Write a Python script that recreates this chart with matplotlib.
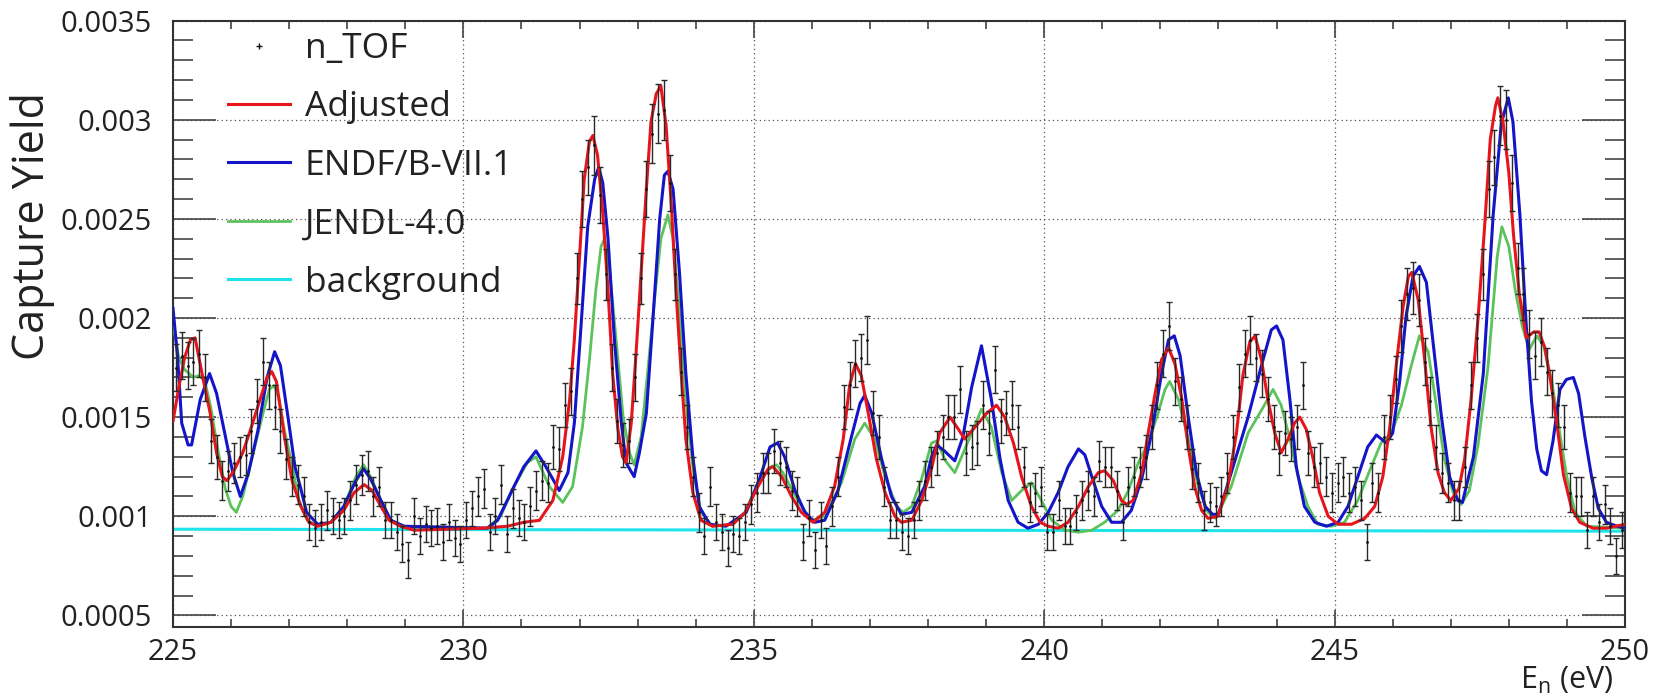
import numpy as np
import matplotlib
matplotlib.use("Agg")
import matplotlib.pyplot as plt
from matplotlib.lines import Line2D
from matplotlib.ticker import MultipleLocator, FixedLocator, FixedFormatter

plt.rcParams['font.family'] = ['Open Sans', 'DejaVu Sans']

SCALE = 1e-5  # all yields below are in units of 1e-5

# n_TOF capture yield, 0.1 eV bins from 225.05 eV (one row per eV)
ntof_e = np.round(np.arange(225.05, 250.0, 0.1), 2)
ntof_y = [
    175, 181, 176, 178, 182, 170, 138, 130, 118, 123,
    127, 130, 131, 143, 158, 178, 166, 155, 143, 129,
    120, 116, 110, 97, 94, 97, 103, 100, 98, 100,
    108, 116, 121, 123, 110, 115, 98, 98, 92, 86,
    78, 100, 90, 96, 94, 95, 87, 97, 89, 86,
    98, 104, 110, 114, 92, 100, 116, 91, 104, 99,
    97, 105, 113, 118, 117, 135, 134, 156, 163, 220,
    260, 276, 287, 262, 222, 175, 148, 136, 138, 170,
    220, 265, 293, 303, 305, 268, 222, 173, 145, 120,
    102, 90, 115, 97, 92, 84, 91, 90, 97, 106,
    112, 122, 122, 133, 127, 125, 113, 110, 87, 99,
    83, 98, 85, 105, 120, 155, 166, 177, 180, 189,
    152, 140, 115, 98, 98, 92, 90, 98, 108, 118,
    125, 132, 140, 150, 150, 164, 132, 135, 137, 156,
    142, 174, 148, 152, 156, 145, 125, 107, 112, 115,
    92, 92, 108, 95, 95, 102, 108, 113, 110, 128,
    125, 125, 113, 97, 115, 120, 125, 130, 145, 166,
    182, 196, 168, 159, 145, 124, 117, 103, 107, 105,
    110, 122, 140, 165, 182, 189, 180, 172, 159, 145,
    132, 142, 139, 145, 166, 132, 125, 127, 120, 112,
    117, 120, 112, 115, 108, 87, 117, 112, 140, 150,
    169, 196, 212, 215, 209, 178, 158, 135, 122, 117,
    108, 108, 125, 166, 190, 222, 265, 281, 302, 300,
    268, 225, 212, 192, 181, 188, 173, 162, 156, 145,
    112, 110, 110, 93, 110, 97, 106, 95, 80, 93,
]
ntof_err = [
    12, 12, 12, 12, 12, 12, 11, 11, 10, 10,
    10, 10, 10, 11, 11, 12, 12, 11, 11, 10,
    10, 10, 10, 9, 9, 9, 10, 9, 9, 9,
    10, 10, 10, 10, 10, 10, 9, 9, 9, 9,
    9, 9, 9, 9, 9, 9, 9, 9, 9, 9,
    9, 9, 10, 10, 9, 9, 10, 9, 10, 9,
    9, 10, 10, 10, 10, 11, 11, 11, 12, 13,
    14, 14, 15, 14, 13, 12, 11, 11, 11, 12,
    13, 14, 15, 15, 15, 14, 13, 12, 11, 10,
    10, 9, 10, 9, 9, 9, 9, 9, 9, 10,
    10, 10, 10, 11, 11, 10, 10, 10, 9, 9,
    9, 9, 9, 10, 10, 11, 12, 12, 12, 12,
    11, 11, 10, 9, 9, 9, 9, 9, 10, 10,
    10, 11, 11, 11, 11, 12, 11, 11, 11, 12,
    11, 12, 11, 11, 12, 11, 10, 10, 10, 10,
    9, 9, 10, 9, 9, 9, 10, 10, 10, 10,
    10, 10, 10, 9, 10, 10, 10, 11, 11, 12,
    12, 12, 12, 11, 11, 10, 10, 10, 10, 10,
    10, 10, 11, 12, 12, 12, 12, 12, 11, 11,
    11, 11, 11, 11, 12, 11, 10, 10, 10, 10,
    10, 10, 10, 10, 10, 9, 10, 10, 11, 11,
    12, 13, 13, 13, 13, 12, 12, 11, 10, 10,
    10, 10, 10, 12, 12, 13, 14, 14, 15, 15,
    14, 13, 13, 12, 12, 12, 12, 12, 11, 11,
    10, 10, 10, 9, 10, 9, 10, 9, 9, 9,
]

# (E [eV], yield [1e-5])
adjusted_pts = [
    (225.00, 148), (225.10, 165), (225.20, 180), (225.30, 189), (225.38, 190),
    (225.50, 172), (225.64, 152), (225.75, 132), (225.85, 120), (225.93, 118),
    (226.05, 123), (226.20, 132), (226.35, 145), (226.50, 159), (226.62, 170),
    (226.70, 173), (226.78, 168), (226.92, 140), (227.05, 118), (227.20, 105),
    (227.34, 97), (227.49, 95), (227.72, 97), (227.94, 103), (228.12, 112),
    (228.29, 116), (228.43, 113), (228.58, 105), (228.72, 98), (228.92, 95),
    (229.15, 93), (230.30, 94), (230.76, 95), (231.04, 97), (231.31, 98),
    (231.54, 108), (231.71, 130), (231.83, 159), (231.91, 189), (232.00, 231),
    (232.08, 270), (232.17, 289), (232.23, 292), (232.31, 282), (232.40, 253),
    (232.49, 214), (232.57, 172), (232.66, 144), (232.74, 130), (232.80, 127),
    (232.89, 147), (232.97, 181), (233.06, 223), (233.15, 265), (233.23, 299),
    (233.32, 313), (233.40, 317), (233.49, 297), (233.58, 257), (233.66, 214),
    (233.75, 172), (233.83, 139), (233.95, 112), (234.09, 98), (234.29, 95),
    (234.64, 96), (234.85, 102), (235.07, 115), (235.25, 124), (235.33, 125),
    (235.48, 120), (235.65, 110), (235.82, 102), (236.02, 97), (236.22, 102),
    (236.39, 115), (236.54, 139), (236.65, 166), (236.75, 177), (236.85, 171),
    (236.97, 152), (237.11, 129), (237.26, 112), (237.43, 100), (237.54, 97),
    (237.72, 98), (237.89, 108), (238.06, 124), (238.20, 142), (238.38, 150),
    (238.52, 144), (238.63, 139), (238.81, 145), (239.01, 152), (239.18, 156),
    (239.32, 150), (239.47, 137), (239.61, 120), (239.78, 105), (239.93, 97),
    (240.07, 95), (240.24, 94), (240.41, 97), (240.59, 105), (240.76, 115),
    (240.93, 122), (241.04, 123), (241.19, 118), (241.33, 108), (241.42, 106),
    (241.53, 108), (241.68, 122), (241.79, 142), (241.91, 162), (242.02, 179),
    (242.14, 185), (242.25, 177), (242.37, 159), (242.48, 135), (242.59, 115),
    (242.71, 103), (242.82, 99), (242.99, 100), (243.16, 115), (243.31, 142),
    (243.42, 171), (243.54, 188), (243.63, 191), (243.74, 179), (243.85, 159),
    (243.97, 142), (244.08, 132), (244.20, 139), (244.31, 147), (244.40, 150),
    (244.51, 144), (244.63, 129), (244.74, 112), (244.89, 100), (245.06, 96),
    (245.29, 96), (245.52, 99), (245.69, 105), (245.83, 120), (245.95, 145),
    (246.06, 176), (246.18, 206), (246.27, 221), (246.33, 223), (246.44, 209),
    (246.55, 179), (246.66, 145), (246.78, 122), (246.89, 112), (247.00, 108),
    (247.14, 114), (247.24, 129), (247.35, 159), (247.47, 200), (247.58, 245),
    (247.68, 290), (247.77, 307), (247.81, 311), (247.90, 299), (248.00, 273),
    (248.08, 242), (248.18, 212), (248.30, 190), (248.43, 193), (248.52, 193),
    (248.62, 185), (248.72, 168), (248.82, 148), (248.94, 121), (249.08, 104),
    (249.22, 97), (249.45, 94), (249.68, 94), (250.00, 96),
]
endf_pts = [
    (225.00, 205), (225.08, 180), (225.15, 147), (225.26, 136), (225.32, 136),
    (225.47, 159), (225.63, 172), (225.75, 162), (225.89, 142), (226.03, 122),
    (226.16, 110), (226.30, 122), (226.46, 143), (226.62, 170), (226.75, 183),
    (226.85, 176), (226.98, 150), (227.10, 125), (227.20, 114), (227.30, 102),
    (227.49, 96), (227.72, 97), (227.94, 105), (228.15, 118), (228.28, 124),
    (228.40, 119), (228.58, 108), (228.75, 98), (228.98, 95), (230.41, 94),
    (230.59, 98), (230.82, 112), (231.04, 125), (231.25, 133), (231.42, 125),
    (231.65, 113), (231.80, 122), (231.91, 147), (232.03, 198), (232.14, 246),
    (232.26, 270), (232.33, 276), (232.40, 268), (232.49, 240), (232.60, 189),
    (232.72, 147), (232.80, 127), (232.94, 120), (233.03, 132), (233.15, 152),
    (233.26, 198), (233.38, 250), (233.46, 272), (233.52, 274), (233.61, 265),
    (233.72, 223), (233.83, 172), (233.95, 130), (234.06, 105), (234.24, 96),
    (234.52, 95), (234.87, 102), (235.10, 119), (235.28, 135), (235.41, 137),
    (235.53, 130), (235.71, 113), (235.88, 102), (236.05, 97), (236.22, 98),
    (236.45, 113), (236.68, 140), (236.83, 157), (236.91, 161), (237.03, 152),
    (237.20, 129), (237.37, 110), (237.54, 101), (237.72, 102), (237.94, 115),
    (238.06, 130), (238.15, 136), (238.28, 133), (238.46, 128), (238.60, 140),
    (238.75, 165), (238.92, 186), (239.09, 159), (239.24, 129), (239.38, 108),
    (239.55, 97), (239.72, 94), (239.90, 96), (240.07, 102), (240.24, 112),
    (240.41, 125), (240.59, 134), (240.70, 131), (240.82, 120), (240.99, 105),
    (241.16, 97), (241.33, 97), (241.50, 103), (241.68, 119), (241.85, 142),
    (242.02, 172), (242.14, 189), (242.24, 191), (242.34, 181), (242.48, 150),
    (242.62, 122), (242.77, 105), (242.90, 101), (243.00, 101), (243.22, 122),
    (243.51, 150), (243.74, 176), (243.91, 194), (244.00, 196), (244.11, 189),
    (244.23, 159), (244.34, 125), (244.48, 105), (244.66, 97), (244.86, 95),
    (245.06, 97), (245.23, 105), (245.40, 120), (245.57, 135), (245.72, 141),
    (245.89, 137), (246.00, 142), (246.12, 168), (246.23, 201), (246.35, 221),
    (246.46, 226), (246.58, 218), (246.69, 189), (246.84, 150), (246.98, 120),
    (247.12, 108), (247.20, 107), (247.39, 130), (247.56, 172), (247.73, 252),
    (247.87, 298), (247.99, 311), (248.07, 299), (248.19, 252), (248.30, 196),
    (248.39, 158), (248.48, 134), (248.56, 123), (248.65, 121), (248.76, 138),
    (248.88, 164), (248.99, 169), (249.11, 170), (249.20, 162), (249.31, 140),
    (249.43, 119), (249.54, 104), (249.68, 97), (249.86, 95), (250.00, 94),
]
jendl_pts = [
    (225.00, 197), (225.10, 180), (225.20, 174), (225.35, 170), (225.45, 171),
    (225.55, 168), (225.65, 155), (225.77, 134), (225.90, 114), (226.00, 105),
    (226.09, 102), (226.20, 110), (226.40, 134), (226.55, 152), (226.66, 164),
    (226.74, 166), (226.82, 160), (226.92, 143), (227.02, 130), (227.17, 108),
    (227.31, 98), (227.49, 95), (227.72, 97), (227.94, 105), (228.15, 120),
    (228.28, 126), (228.40, 120), (228.58, 108), (228.75, 98), (228.98, 95),
    (230.41, 94), (230.64, 100), (230.87, 115), (231.10, 127), (231.25, 130),
    (231.48, 115), (231.71, 107), (231.88, 115), (232.05, 145), (232.17, 179),
    (232.28, 214), (232.37, 236), (232.43, 240), (232.52, 223), (232.63, 189),
    (232.75, 150), (232.86, 132), (232.94, 126), (233.06, 140), (233.17, 172),
    (233.29, 209), (233.40, 240), (233.52, 252), (233.61, 240), (233.72, 203),
    (233.83, 159), (233.95, 125), (234.09, 102), (234.29, 95), (234.64, 96),
    (234.85, 102), (235.07, 117), (235.30, 125), (235.39, 126), (235.50, 122),
    (235.76, 108), (235.99, 98), (236.22, 100), (236.51, 117), (236.74, 139),
    (236.91, 147), (237.08, 139), (237.26, 120), (237.46, 105), (237.57, 102),
    (237.72, 105), (237.89, 119), (238.06, 137), (238.15, 138), (238.30, 128),
    (238.46, 122), (238.65, 135), (238.92, 154), (239.09, 145), (239.27, 122),
    (239.44, 108), (239.61, 113), (239.78, 117), (239.95, 108), (240.13, 98),
    (240.36, 93), (240.59, 92), (240.82, 93), (241.04, 97), (241.27, 103),
    (241.45, 113), (241.62, 127), (241.79, 137), (241.96, 152), (242.08, 164),
    (242.16, 168), (242.31, 159), (242.48, 139), (242.65, 115), (242.82, 102),
    (242.95, 99), (243.22, 115), (243.51, 142), (243.79, 156), (243.94, 164),
    (244.08, 156), (244.23, 139), (244.37, 120), (244.54, 105), (244.71, 96),
    (244.94, 95), (245.17, 97), (245.40, 108), (245.63, 125), (245.80, 137),
    (245.98, 142), (246.15, 156), (246.32, 176), (246.46, 191), (246.61, 183),
    (246.72, 162), (246.89, 129), (247.04, 112), (247.18, 106), (247.32, 113),
    (247.47, 136), (247.64, 175), (247.80, 231), (247.88, 246), (248.00, 236),
    (248.11, 214), (248.23, 196), (248.35, 184), (248.48, 191), (248.60, 186),
    (248.74, 168), (248.85, 147), (248.99, 121), (249.14, 102), (249.34, 95),
    (250.00, 94),
]
background_e = [225.0, 250.0]
background_y = [93.5, 92.5]

x_ticks = [225, 230, 235, 240, 245, 250]
y_ticks = [0.0005, 0.001, 0.0015, 0.002, 0.0025, 0.003, 0.0035]
y_tick_labels = ['0.0005', '0.001', '0.0015', '0.002', '0.0025', '0.003', '0.0035']

adj_e, adj_y = np.array(adjusted_pts).T
endf_e, endf_y = np.array(endf_pts).T
jendl_e, jendl_y = np.array(jendl_pts).T

fig = plt.figure(figsize=(16.57, 7.0), dpi=100)
ax = fig.add_axes([0.1044, 0.1043, 0.8763, 0.8664])

bkg_line, = ax.plot(background_e, np.array(background_y) * SCALE, color='#1fe3ea', lw=2.2, zorder=2)
jendl_line, = ax.plot(jendl_e, jendl_y * SCALE, color='#5cc35c', lw=2.0, zorder=3)
endf_line, = ax.plot(endf_e, endf_y * SCALE, color='#1414c8', lw=2.2, zorder=4)
adj_line, = ax.plot(adj_e, adj_y * SCALE, color='#e8141c', lw=2.2, zorder=5)

ax.errorbar(ntof_e, np.array(ntof_y) * SCALE, yerr=np.array(ntof_err) * SCALE,
            fmt='none', ecolor='#2a2a2a', elinewidth=1.0, capsize=2.3, capthick=1.0, zorder=6)
ax.plot(ntof_e, np.array(ntof_y) * SCALE, ls='none', marker='.', ms=2, color='#111111', zorder=7)

ax.set_xlim(225, 250)
ax.set_ylim(0.000442, 0.0035)

ax.xaxis.set_major_locator(FixedLocator(x_ticks))
ax.xaxis.set_minor_locator(MultipleLocator(1))
ax.yaxis.set_major_locator(FixedLocator(y_ticks))
ax.yaxis.set_major_formatter(FixedFormatter(y_tick_labels))
ax.yaxis.set_minor_locator(MultipleLocator(0.0001))

ax.grid(True, which='major', linestyle=(0, (1, 2.5)), color='#555555', lw=0.9)
ax.set_axisbelow(True)

ax.tick_params(which='both', direction='in', top=True, right=True, color='#444444', width=1.2,
               labelsize=21, labelcolor='#222222')
ax.tick_params(axis='y', which='major', length=31, pad=15)
ax.tick_params(axis='y', which='minor', length=14.5)
ax.tick_params(axis='x', which='major', length=12, pad=8)
ax.tick_params(axis='x', which='minor', length=6)
for sp in ax.spines.values():
    sp.set_color('#333333')
    sp.set_linewidth(1.5)

fig.text(33 / 1657, 1 - 226 / 700, 'Capture Yield', rotation=90, ha='center', va='center',
         fontsize=31, color='#222222')
fig.text(1613 / 1657, 1 - 680 / 700, r'E$_\mathregular{n}$ (eV)', ha='right', va='center',
         fontsize=22, color='#222222')

data_handle = Line2D([], [], ls='none', marker='+', ms=4, mew=1, color='#111111')
ax.legend([data_handle, adj_line, endf_line, jendl_line, bkg_line],
          ['n_TOF', 'Adjusted', 'ENDF/B-VII.1', 'JENDL-4.0', 'background'],
          loc='upper left', bbox_to_anchor=(228 / 1657, 1 - 32 / 700), bbox_transform=fig.transFigure,
          frameon=False, fontsize=25.5, handlelength=1.75, handletextpad=0.42, labelspacing=0.69,
          borderpad=0, borderaxespad=0, labelcolor='#222222')

fig.savefig('out.png', dpi=100)
